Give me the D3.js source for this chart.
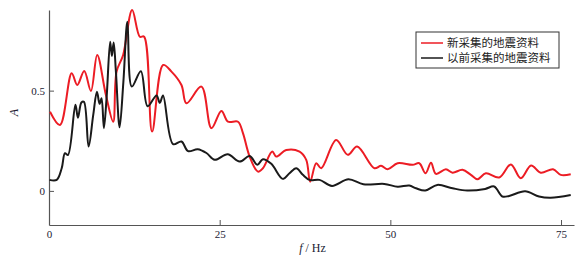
<!DOCTYPE html>
<html>
<head>
<meta charset="utf-8">
<script src="https://cdn.jsdelivr.net/npm/d3@7"></script>
<style>
  body { margin: 0; background: #fff; }
  .axis path, .axis line { stroke: #555; }
  .axis text { font-family: "Liberation Serif", "DejaVu Serif", serif; font-size: 11px; fill: #223; }
</style>
</head>
<body>
<div id="chart"></div>
<script>
// frequency (Hz) and amplitude readings, new survey
const newFreq = [0.15, 1.61, 3.32, 4.14, 5.16, 6.14, 7.06, 8.33, 9.40, 9.90, 10.86, 12.18, 13.30, 13.93,
  15.10, 16.71, 17.94, 19.40, 20.13, 22.32, 23.79, 25.25, 26.21, 27.68, 28.41, 29.39, 30.60, 31.33,
  32.70, 33.29, 34.75, 36.70, 37.68, 38.26, 39.14, 39.87, 42.06, 43.76, 45.13, 47.66, 48.64, 49.61,
  51.07, 53.26, 54.24, 55.16, 55.95, 56.68, 58.14, 59.11, 60.57, 61.80, 62.76, 63.99, 65.94, 67.65,
  69.11, 70.61, 72.03, 73.83, 74.96, 76.42];
const newAmp = [0.395, 0.329, 0.587, 0.528, 0.598, 0.498, 0.678, 0.479, 0.345, 0.595, 0.678, 0.902, 0.769, 0.769,
  0.296, 0.628, 0.595, 0.528, 0.437, 0.520, 0.313, 0.399, 0.345, 0.345, 0.288, 0.171, 0.096, 0.113,
  0.196, 0.171, 0.204, 0.196, 0.155, 0.046, 0.138, 0.113, 0.254, 0.180, 0.221, 0.113, 0.125, 0.108,
  0.138, 0.130, 0.138, 0.088, 0.140, 0.085, 0.108, 0.091, 0.105, 0.080, 0.058, 0.088, 0.067, 0.132,
  0.063, 0.127, 0.091, 0.108, 0.080, 0.083];

// previous survey
const oldFreq = [0.07, 1.13, 1.86, 2.34, 2.78, 3.87, 4.24, 4.75, 5.12, 5.80, 6.48, 7.02, 7.41, 7.70, 8.04,
  8.44, 8.96, 9.21, 9.47, 9.80, 10.34, 10.89, 11.48, 12.13, 13.45, 14.44, 15.75, 16.23, 16.70, 18.17,
  19.40, 20.37, 21.78, 23.06, 24.27, 26.17, 27.92, 29.39, 30.51, 31.33, 32.56, 34.25, 35.23, 36.21,
  37.18, 38.16, 39.62, 41.45, 43.86, 46.05, 49.12, 51.07, 52.78, 53.76, 55.12, 56.87, 59.11, 61.26,
  63.89, 65.20, 66.42, 67.40, 69.74, 71.78, 73.49, 76.42];
const oldAmp = [0.055, 0.055, 0.113, 0.188, 0.179, 0.429, 0.365, 0.441, 0.444, 0.221, 0.379, 0.494, 0.434, 0.462, 0.313,
  0.466, 0.744, 0.673, 0.740, 0.595, 0.317, 0.541, 0.844, 0.520, 0.597, 0.422, 0.476, 0.439, 0.476, 0.233,
  0.246, 0.198, 0.208, 0.189, 0.155, 0.183, 0.146, 0.174, 0.130, 0.158, 0.135, 0.060, 0.088, 0.113,
  0.080, 0.055, 0.055, 0.025, 0.058, 0.033, 0.035, 0.021, 0.027, 0.013, 0.002, 0.030, 0.013, 0.002,
  0.010, 0.022, -0.028, -0.025, -0.002, -0.028, -0.034, -0.020];

const xTicks = [0, 25, 50, 75];
const yTicks = [0, 0.5];
const seriesNames = ['新采集的地震资料', '以前采集的地震资料'];
const seriesColors = ['#ec1c24', '#1a1a1a'];

const width = 588, height = 260;
const margin = { top: 10, right: 14, bottom: 35, left: 49 };
const innerWidth = width - margin.left - margin.right;
const innerHeight = height - margin.top - margin.bottom;

const svg = d3.select('#chart').append('svg')
  .attr('width', width)
  .attr('height', height);

const g = svg.append('g')
  .attr('transform', `translate(${margin.left},${margin.top})`);

const xScale = d3.scaleLinear().domain([0, 76.9]).range([0, innerWidth]);
const yScale = d3.scaleLinear().domain([-0.17, 0.902]).range([innerHeight, 0]);

// axes, ticks point inward
g.append('g')
  .attr('class', 'axis')
  .attr('transform', `translate(0,${innerHeight})`)
  .call(d3.axisBottom(xScale).tickValues(xTicks).tickSizeInner(-5).tickSizeOuter(0).tickPadding(5));

g.append('g')
  .attr('class', 'axis')
  .call(d3.axisLeft(yScale).tickValues(yTicks).tickSizeInner(-5).tickSizeOuter(0).tickPadding(4)
    .tickFormat(d3.format('')));

g.selectAll('.axis path').attr('stroke-width', 1.2);

// axis titles
g.append('text')
  .attr('transform', `translate(-31,${innerHeight / 2 - 5}) rotate(-90)`)
  .attr('text-anchor', 'middle')
  .style('font-family', '"Liberation Serif", serif')
  .style('font-style', 'italic')
  .style('font-size', '12px')
  .attr('fill', '#223')
  .text('A');

const xLabel = g.append('text')
  .attr('x', innerWidth / 2 + 1)
  .attr('y', innerHeight + 27)
  .attr('text-anchor', 'middle')
  .style('font-family', '"Liberation Serif", serif')
  .style('font-size', '12px')
  .attr('fill', '#223');
xLabel.append('tspan').style('font-style', 'italic').text('f');
xLabel.append('tspan').text(' / Hz');

// lines
const line = d3.line()
  .x(d => xScale(d[0]))
  .y(d => yScale(d[1]))
  .curve(d3.curveCatmullRom.alpha(0.5));

const series = [
  d3.zip(newFreq, newAmp),
  d3.zip(oldFreq, oldAmp)
];

// draw the old one first so red sits over where they cross? reference shows black on top near peaks
[0, 1].forEach(i => {
  g.append('path')
    .datum(series[i])
    .attr('fill', 'none')
    .attr('stroke', seriesColors[i])
    .attr('stroke-width', 2)
    .attr('stroke-linejoin', 'round')
    .attr('d', line);
});

// legend
const legend = svg.append('g').attr('transform', 'translate(416,32)');
legend.append('rect')
  .attr('width', 143)
  .attr('height', 36)
  .attr('fill', '#fff')
  .attr('stroke', '#333')
  .attr('stroke-width', 1);

seriesNames.forEach((name, i) => {
  const y = 11 + i * 15;
  legend.append('line')
    .attr('x1', 5).attr('x2', 27)
    .attr('y1', y).attr('y2', y)
    .attr('stroke', seriesColors[i])
    .attr('stroke-width', 1.5);
  legend.append('text')
    .attr('x', 31)
    .attr('y', y)
    .attr('dy', '0.36em')
    .style('font-family', '"Noto Sans CJK SC", sans-serif')
    .style('font-size', '11.5px')
    .attr('fill', '#222')
    .text(name);
});
</script>
</body>
</html>
